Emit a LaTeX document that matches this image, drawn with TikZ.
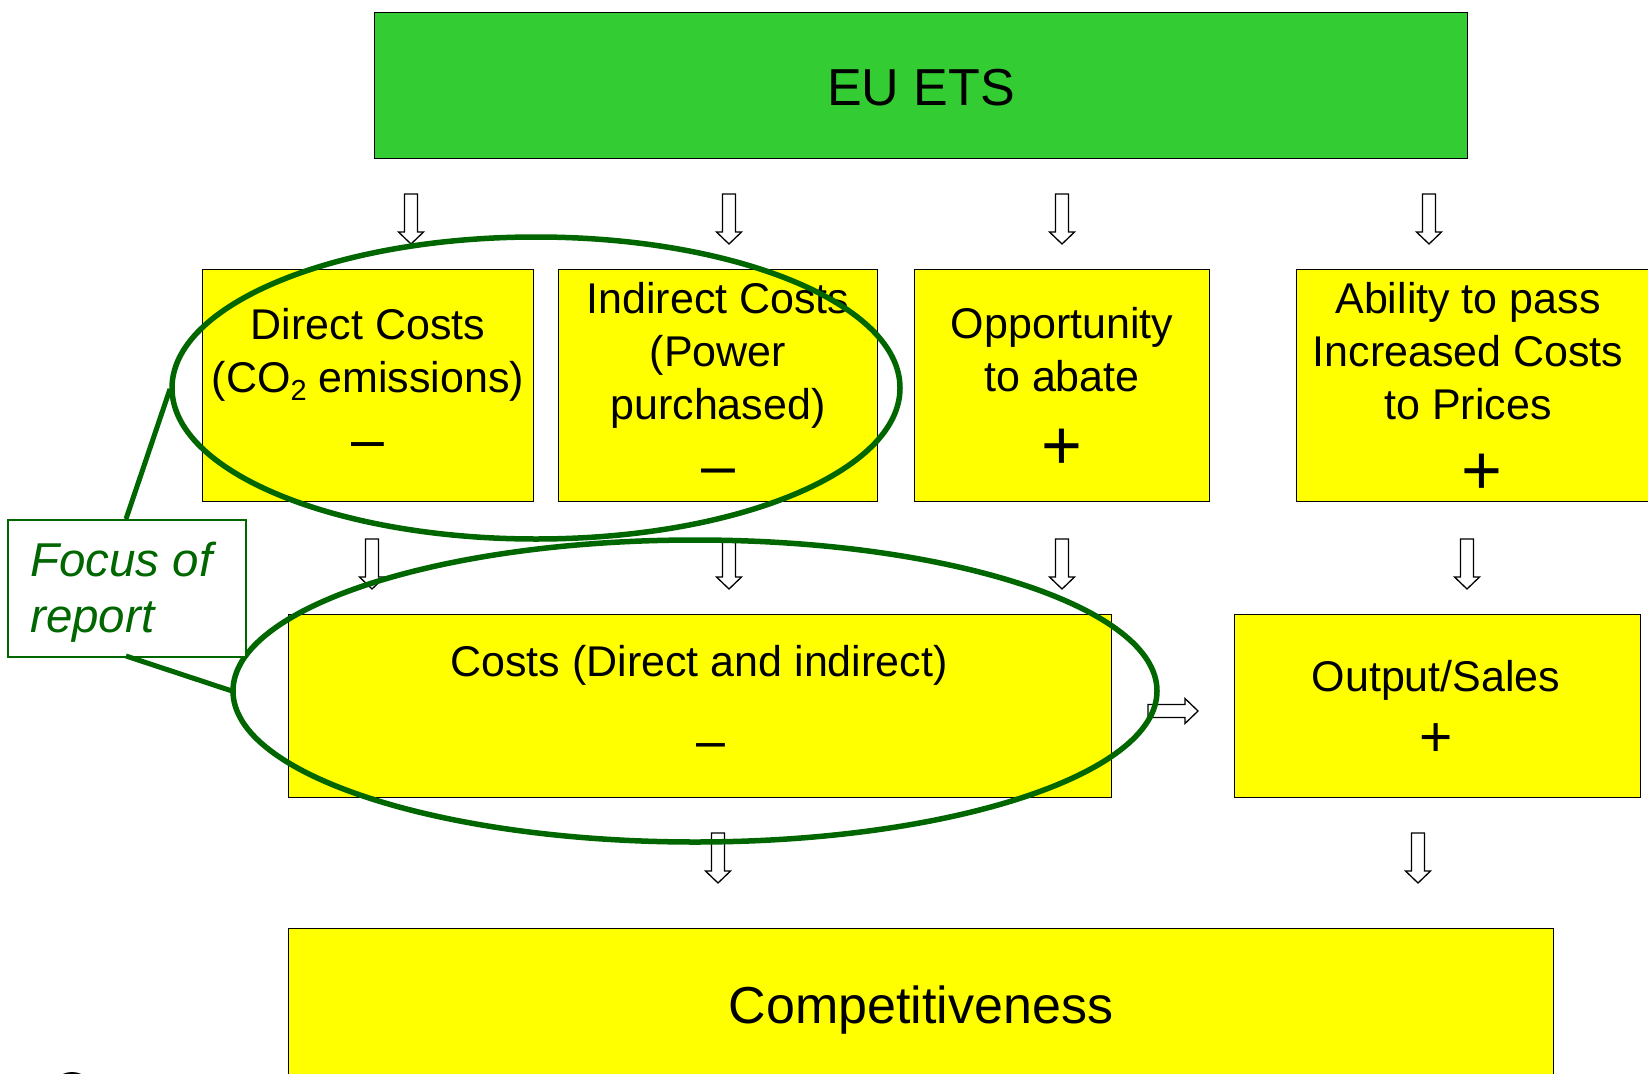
\documentclass[tikz,border=0pt]{standalone}
\usepackage{fontspec}
\setmainfont{Liberation Sans}
\definecolor{etsgreen}{RGB}{51,204,51}
\definecolor{boxyellow}{RGB}{255,255,0}
\definecolor{focusgreen}{RGB}{0,102,0}
\newcommand{\fs}[1]{\fontsize{#1}{#1}\selectfont}
\begin{document}
\begin{tikzpicture}[x=1pt,y=-1pt,
  panel/.style={draw=black, line width=1.3pt, fill=boxyellow, anchor=north west, inner sep=0pt},
  toppanel/.style={panel, fill=etsgreen},
  txt/.style={inner sep=0pt, align=center, font=\fontsize{43}{53}\selectfont},
  sign/.style={inner sep=0pt, anchor=base},
  arr/.style={draw=black, line width=1.3pt, fill=white, line join=miter},
  downarr/.pic={\draw[arr] (-6.5,0) -- (6.5,0) -- (6.5,38) -- (12.5,38) -- (0,50) -- (-12.5,38) -- (-6.5,38) -- cycle;},
  rightarr/.pic={\draw[arr] (0,-6.5) -- (37,-6.5) -- (37,-12.5) -- (50,0) -- (37,12.5) -- (37,6.5) -- (0,6.5) -- cycle;},
  ring/.style={draw=focusgreen, line width=5.5pt},
  leader/.style={draw=focusgreen, line width=5pt}
]
\useasboundingbox (0,0) rectangle (1648,1073);
\clip (0,0) rectangle (1648,1073);
\fill[white] (0,0) rectangle (1648,1073);

% boxes
\node[toppanel, minimum width=1093pt, minimum height=146pt] (ets) at (374,12) {};
\node[panel, minimum width=331pt, minimum height=232pt] (direct) at (202,269) {};
\node[panel, minimum width=319pt, minimum height=232pt] (indirect) at (558,269) {};
\node[panel, minimum width=295pt, minimum height=232pt] (abate) at (914,269) {};
\node[panel, minimum width=380pt, minimum height=232pt] (pass) at (1296,269) {};
\node[panel, minimum width=823pt, minimum height=183pt] (costs) at (288,614) {};
\node[panel, minimum width=406pt, minimum height=183pt] (output) at (1234,614) {};
\node[panel, minimum width=1265pt, minimum height=180pt] (comp) at (288,928) {};

% texts
\node[inner sep=0pt, anchor=base, font=\fs{52}] (etstxt) at (921,105) {EU ETS};
\node[txt] (directtxt) at (368,355) {Direct Costs\\(CO\raisebox{-8pt}{\fs{29}2} emissions)};
\node[txt] (indirecttxt) at (718,355) {Indirect Costs\\(Power\\purchased)};
\node[txt] (abatetxt) at (1062,350) {Opportunity\\to abate};
\node[txt] (passtxt) at (1468,351) {Ability to pass\\Increased Costs\\to Prices};
\node[inner sep=0pt, anchor=base, font=\fs{43}] (coststxt) at (699,676) {Costs (Direct and indirect)};
\node[inner sep=0pt, anchor=base, font=\fs{43}] (outputtxt) at (1436,691) {Output/Sales};
\node[inner sep=0pt, anchor=base, font=\fs{52}] (comptxt) at (921,1023) {Competitiveness};

% signs
\node[sign, font=\fs{59}] (dsign) at (368,459) {–};
\node[sign, font=\fs{61}] (isign) at (718,486) {–};
\node[sign, font=\fs{70}] (asign) at (1062,469) {+};
\node[sign, font=\fs{70}] (psign) at (1482,494) {+};
\node[sign, font=\fs{52}] (csign) at (711,758) {–};
\node[sign, font=\fs{57}] (osign) at (1436,756) {+};

% block arrows
\pic at (411,194) {downarr};
\pic at (729,194) {downarr};
\pic at (1062,194) {downarr};
\pic at (1429,194) {downarr};
\pic at (372,539) {downarr};
\pic at (729,539) {downarr};
\pic at (1062,539) {downarr};
\pic at (1467,539) {downarr};
\pic at (718,833) {downarr};
\pic at (1418,833) {downarr};
\pic at (1148,711) {rightarr};

% focus rings
\draw[ring] (536,388) ellipse [x radius=364, y radius=151];
\draw[ring] (695,691) ellipse [x radius=462, y radius=151];

% callout
\coordinate (ringA) at (170,389);
\coordinate (ringB) at (232,691);
\node[draw=focusgreen, line width=1.5pt, fill=white, anchor=north west, inner sep=0pt,
      minimum width=238pt, minimum height=137pt] (focus) at (7,519) {};
\node[inner sep=0pt, anchor=base west, align=left, text=focusgreen,
      font=\fontsize{47.5}{56}\selectfont\itshape] (focustxt) at (30,632) {Focus of\\report};
\draw[leader] (126,519) -- (ringA);
\draw[leader] (126,656) -- (ringB);

% corner mark
\fill[black] (72,1094) circle (22);
\end{tikzpicture}
\end{document}
